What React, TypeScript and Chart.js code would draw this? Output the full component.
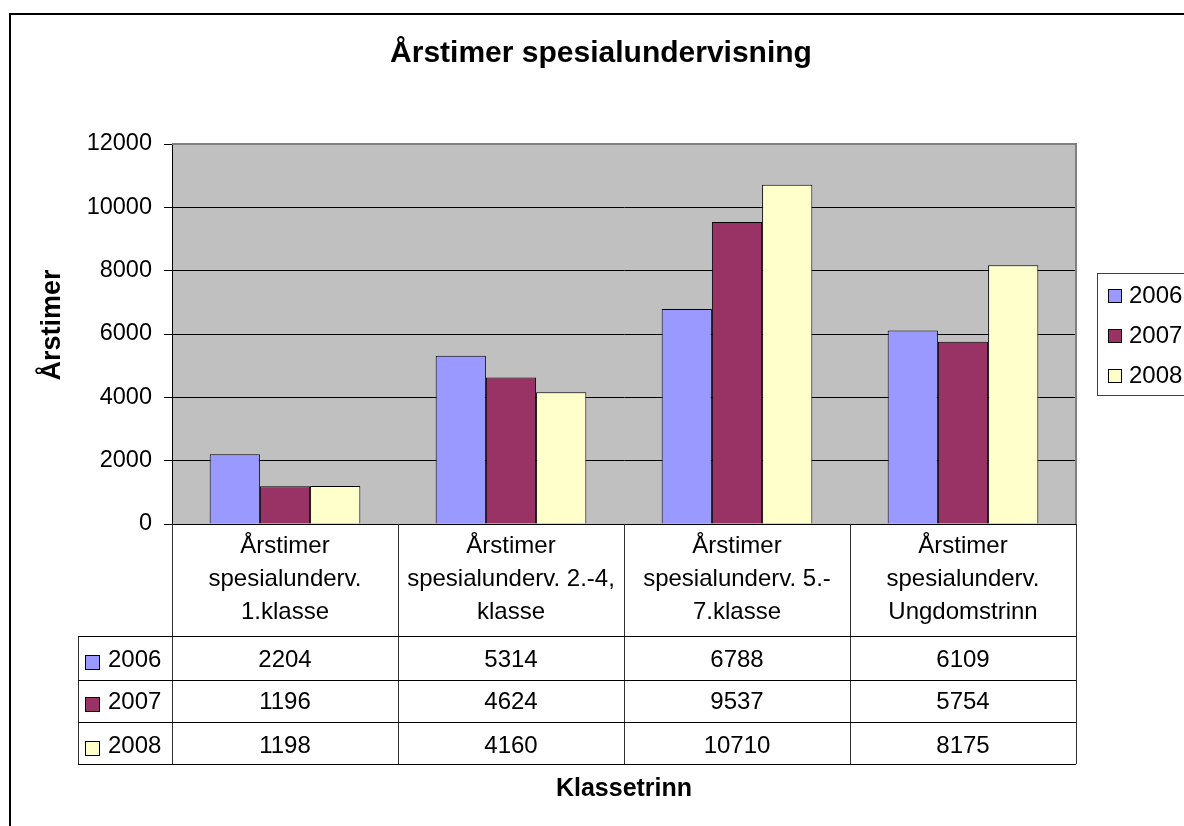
import React, { useEffect, useRef } from "react";
import { Chart, registerables } from "chart.js";

Chart.register(...registerables);

const categoryLines: string[][] = [
  ["Årstimer", "spesialunderv.", "1.klasse"],
  ["Årstimer", "spesialunderv. 2.-4,", "klasse"],
  ["Årstimer", "spesialunderv. 5.-", "7.klasse"],
  ["Årstimer", "spesialunderv.", "Ungdomstrinn"],
];
const seriesNames = ["2006", "2007", "2008"];
const values2006 = [2204, 5314, 6788, 6109];
const values2007 = [1196, 4624, 9537, 5754];
const values2008 = [1198, 4160, 10710, 8175];
const seriesColors = ["#9999FF", "#993366", "#FFFFCC"];
const yMin = 0;
const yMax = 12000;
const yStep = 2000;
const chartTitle = "Årstimer spesialundervisning";
const yTitle = "Årstimer";
const xTitle = "Klassetrinn";

const FONT = '"Liberation Sans", Arial, sans-serif';

const decorPlugin = {
  id: "decor",
  beforeDraw(chart: any) {
    const { ctx, chartArea } = chart;
    ctx.save();
    ctx.fillStyle = "#FFFFFF";
    ctx.fillRect(0, 0, chart.width, chart.height);
    // outer border
    ctx.strokeStyle = "#000000";
    ctx.lineWidth = 2;
    ctx.strokeRect(10, 14, chart.width + 20, chart.height + 20);
    // plot background
    ctx.fillStyle = "#C0C0C0";
    ctx.fillRect(chartArea.left, chartArea.top, chartArea.right - chartArea.left, chartArea.bottom - chartArea.top);
    ctx.restore();
  },
  afterDraw(chart: any) {
    const { ctx, chartArea } = chart;
    const xs = chart.scales.x;
    ctx.save();
    // plot border top/right
    ctx.strokeStyle = "#808080";
    ctx.lineWidth = 2;
    ctx.beginPath();
    ctx.moveTo(chartArea.left, chartArea.top);
    ctx.lineTo(chartArea.right, chartArea.top);
    ctx.lineTo(chartArea.right, chartArea.bottom);
    ctx.stroke();

    // title
    ctx.fillStyle = "#000000";
    ctx.textAlign = "center";
    ctx.textBaseline = "alphabetic";
    ctx.font = `bold 30px ${FONT}`;
    ctx.fillText(chartTitle, 601, 62);

    // y title
    ctx.save();
    ctx.translate(60, 325);
    ctx.rotate(-Math.PI / 2);
    ctx.font = `bold 27px ${FONT}`;
    ctx.fillText(yTitle, 0, 0);
    ctx.restore();

    // x title
    ctx.font = `bold 25px ${FONT}`;
    ctx.fillText(xTitle, 624, 796);

    // data table
    const n = categoryLines.length;
    const step = xs.getPixelForValue(1) - xs.getPixelForValue(0);
    const half = step / 2;
    const headerTop = chartArea.bottom;
    const headerBottom = 636;
    const rowLines = [headerBottom, 680, 722, 764];
    const tableLeft = 78;
    const tableRight = xs.getPixelForValue(n - 1) + half;

    ctx.lineWidth = 1;
    // vertical lines
    ctx.strokeStyle = "#303030";
    for (let i = 0; i <= n; i++) {
      const x = Math.round(xs.getPixelForValue(i) - half) + 0.5;
      ctx.beginPath();
      ctx.moveTo(x, headerTop);
      ctx.lineTo(x, rowLines[rowLines.length - 1]);
      ctx.stroke();
    }
    ctx.beginPath();
    ctx.moveTo(tableLeft + 0.5, headerBottom);
    ctx.lineTo(tableLeft + 0.5, rowLines[rowLines.length - 1]);
    ctx.stroke();
    // horizontal lines
    ctx.strokeStyle = "#000000";
    for (const y of rowLines) {
      ctx.beginPath();
      ctx.moveTo(tableLeft, y + 0.5);
      ctx.lineTo(tableRight, y + 0.5);
      ctx.stroke();
    }

    // header texts
    ctx.fillStyle = "#000000";
    ctx.font = `24px ${FONT}`;
    ctx.textAlign = "center";
    categoryLines.forEach((lines, i) => {
      const cx = xs.getPixelForValue(i);
      lines.forEach((line, j) => {
        ctx.fillText(line, cx, 553 + j * 33);
      });
    });

    // rows
    const rowBaselines = [667, 709, 753];
    chart.data.datasets.forEach((ds: any, r: number) => {
      const base = rowBaselines[r];
      ctx.fillStyle = ds.backgroundColor;
      ctx.fillRect(86, base - 11, 13, 13);
      ctx.strokeStyle = "#000000";
      ctx.lineWidth = 1;
      ctx.strokeRect(85.5, base - 11.5, 14, 14);
      ctx.fillStyle = "#000000";
      ctx.textAlign = "left";
      ctx.fillText(ds.label, 108, base);
      ctx.textAlign = "center";
      ds.data.forEach((v: number, i: number) => {
        ctx.fillText(String(v), xs.getPixelForValue(i), base);
      });
    });

    // legend
    ctx.strokeStyle = "#404040";
    ctx.lineWidth = 1;
    ctx.strokeRect(1097.5, 273.5, 200, 122);
    const legBaselines = [303, 343, 383];
    chart.data.datasets.forEach((ds: any, r: number) => {
      const base = legBaselines[r];
      ctx.fillStyle = ds.backgroundColor;
      ctx.fillRect(1109, base - 13, 12, 12);
      ctx.strokeStyle = "#000000";
      ctx.strokeRect(1108.5, base - 13.5, 13, 13);
      ctx.fillStyle = "#000000";
      ctx.textAlign = "left";
      ctx.font = `24px ${FONT}`;
      ctx.fillText(ds.label, 1129, base);
    });

    ctx.restore();
  },
};

export default function App() {
  const ref = useRef<HTMLCanvasElement | null>(null);
  useEffect(() => {
    if (!ref.current) return;
    const seriesValues = [values2006, values2007, values2008];
    const chart = new Chart(ref.current, {
      type: "bar",
      data: {
        labels: categoryLines.map((l) => l.join(" ")),
        datasets: seriesNames.map((name, i) => ({
          label: name,
          data: seriesValues[i],
          backgroundColor: seriesColors[i],
          borderColor: "#000000",
          borderWidth: 1,
          barPercentage: 1,
          categoryPercentage: 3 / 4.5,
        })),
      },
      options: {
        responsive: false,
        animation: false,
        devicePixelRatio: 1,
        layout: { padding: { left: 0, right: 108, top: 144, bottom: 302 } },
        plugins: {
          legend: { display: false },
          title: { display: false },
          tooltip: { enabled: false },
        },
        scales: {
          x: {
            type: "category",
            offset: true,
            grid: { display: false },
            ticks: { display: false },
            border: { display: false },
            afterFit: (s: any) => {
              s.height = 0;
            },
          },
          y: {
            min: yMin,
            max: yMax,
            ticks: {
              stepSize: yStep,
              color: "#000000",
              font: { family: FONT, size: 23.5 },
              padding: 12,
              callback: (v: any) => String(v),
            },
            grid: {
              color: "#000000",
              lineWidth: 1,
              tickLength: 8,
              tickColor: "#000000",
            },
            border: { display: true, color: "#000000", width: 1 },
            afterFit: (s: any) => {
              s.width = 172;
            },
          },
        },
      },
      plugins: [decorPlugin],
    } as any);
    return () => chart.destroy();
  }, []);
  return (
    <div style={{ position: "absolute", left: 0, top: 0, width: 1184, height: 826 }}>
      <canvas ref={ref} width={1184} height={826} style={{ display: "block" }} />
    </div>
  );
}
